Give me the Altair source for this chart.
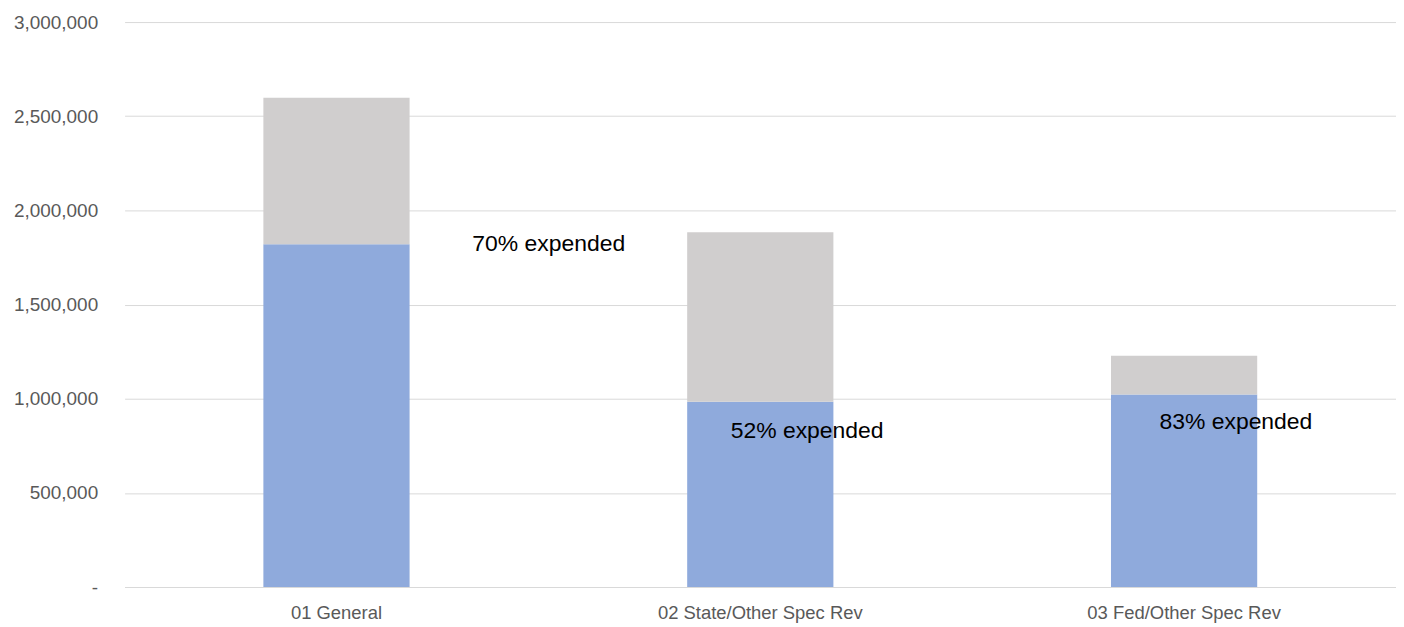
import altair as alt
import pandas as pd

categories = ["01 General", "02 State/Other Spec Rev", "03 Fed/Other Spec Rev"]
expended = [1820000, 984000, 1022000]
budget = [2598000, 1884000, 1228000]
pct_labels = ["70% expended", "52% expended", "83% expended"]

rows = []
for c, e, b in zip(categories, expended, budget):
    rows.append({"category": c, "part": "Expended", "value": e, "ord": 0})
    rows.append({"category": c, "part": "Remaining", "value": b - e, "ord": 1})
df = pd.DataFrame(rows)

lab = pd.DataFrame({"category": categories, "label": pct_labels, "y": expended})

FONT = "Liberation Sans"
x_enc = alt.X("category:N", sort=categories, title=None,
              scale=alt.Scale(paddingInner=0.655, paddingOuter=0.3275),
              axis=alt.Axis(labelAngle=0, ticks=False, domainColor="#d9d9d9",
                            labelColor="#595959", labelFontSize=18.5, labelFont=FONT,
                            labelPadding=17, labelLimit=0))

bars = alt.Chart(df).mark_bar().encode(
    x=x_enc,
    y=alt.Y("value:Q", stack="zero", title=None,
            scale=alt.Scale(domain=[0, 3000000]),
            axis=alt.Axis(values=[0, 500000, 1000000, 1500000, 2000000, 2500000, 3000000],
                          labelExpr="datum.value == 0 ? '-\u2002' : format(datum.value, ',')",
                          domain=False, ticks=False, gridColor="#d9d9d9",
                          labelColor="#595959", labelFontSize=19, labelFont=FONT,
                          labelPadding=27)),
    color=alt.Color("part:N", legend=None,
                    scale=alt.Scale(domain=["Expended", "Remaining"],
                                    range=["#8faadc", "#d0cece"])),
    order=alt.Order("ord:Q"),
)

offsets = [(213, 0), (47, 29), (52, 28)]
layers = [bars]
for i, (dx, dy) in enumerate(offsets):
    t = alt.Chart(lab.iloc[[i]]).mark_text(
        dx=dx, dy=dy, fontSize=23, font=FONT, color="#000000", baseline="middle"
    ).encode(x=alt.X("category:N", sort=categories), y="y:Q", text="label:N")
    layers.append(t)

chart = alt.layer(*layers).properties(
    width=1276, height=567,
    autosize=alt.AutoSizeParams(type="none"),
    padding={"left": 117, "top": 13, "right": 0, "bottom": 40},
).configure_view(stroke=None)

chart.save("out.html", embed_options={"renderer": "svg", "actions": False})
